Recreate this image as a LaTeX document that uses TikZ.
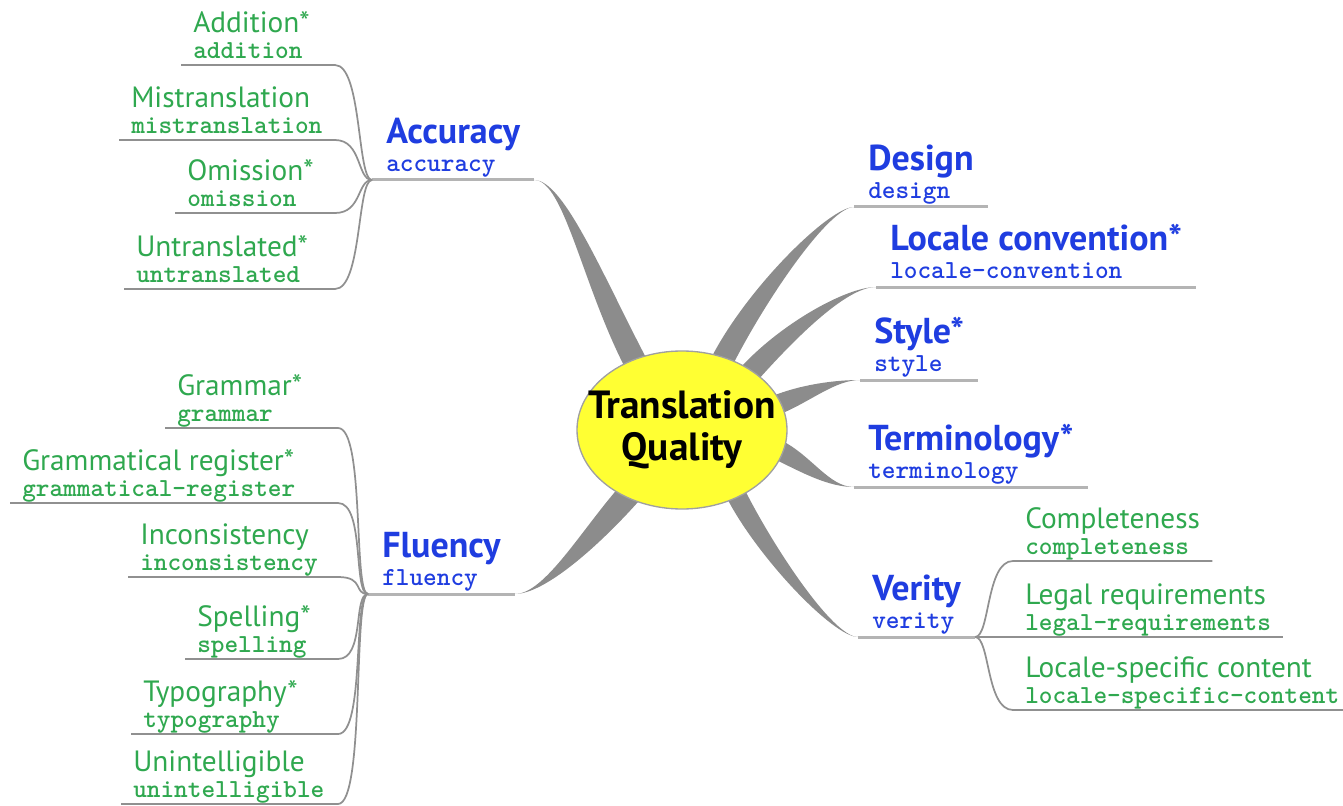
\documentclass[tikz,border=0pt]{standalone}
\usepackage{fontspec}
\setmainfont{PT Sans}
\newfontfamily\codefont{lmmonolt10-bold}[Extension=.otf]
\usetikzlibrary{shapes.geometric,backgrounds}

\definecolor{leafgreen}{HTML}{2FA84F}
\definecolor{topicblue}{HTML}{1F3DE0}
\definecolor{hubyellow}{HTML}{FFFF33}
\definecolor{hubline}{HTML}{A0A0A0}
\definecolor{ruleline}{HTML}{B4B4B4}
\definecolor{twigline}{HTML}{909090}
\definecolor{limbgray}{HTML}{8C8C8C}

% identifier under each label
\newcommand{\idtxt}[1]{{\codefont\fontsize{19.5}{18}\selectfont #1}}
% tapered branch: thin end, its control, control at thick end, thick end, two offsets
\newcommand{\limb}[6]{\fill[limbgray] (#1) .. controls +(#2) and +(#3) .. ([shift={(#5)}]#4) -- ([shift={(#6)}]#4) .. controls +(#3) and +(#2) .. (#1) -- cycle;}

\tikzset{
  leaf/.style={anchor=south west, align=left, inner xsep=9pt, inner ysep=0pt, text depth=5pt, text=leafgreen, font=\fontsize{22}{19.5}\selectfont},
  topic/.style={anchor=south west, align=left, inner xsep=10.5pt, inner ysep=0pt, text depth=6.5pt, text=topicblue, font=\bfseries\fontsize{27}{21}\selectfont},
  hub/.style={ellipse, draw=hubline, line width=1pt, fill=hubyellow, inner xsep=-20pt, inner ysep=6pt, minimum width=157.5pt, minimum height=118.5pt, align=center, font=\bfseries\fontsize{29.5}{31.5}\selectfont},
  rule/.style={draw=ruleline, line width=2.25pt},
  twig/.style={draw=twigline, line width=1.3pt},
}

\begin{document}
\begin{tikzpicture}[x=0.75pt, y=-0.75pt]
\useasboundingbox (0,0) rectangle (1343,806);

% centre
\node[hub] (tq) at (682,430) {Translation\\Quality};

% main topics
\node[topic] (acc) at (372,180) {Accuracy\\\idtxt{accuracy}};
\node[topic] (flu) at (368,594) {Fluency\\\idtxt{fluency}};
\node[topic] (des) at (854,207) {Design\\\idtxt{design}};
\node[topic] (loc) at (876,287) {Locale convention*\\\idtxt{locale-convention}};
\node[topic] (sty) at (860,380) {Style*\\\idtxt{style}};
\node[topic] (ter) at (854,487) {Terminology*\\\idtxt{terminology}};
\node[topic] (ver) at (858,637) {Verity\\\idtxt{verity}};

\foreach \t in {acc,flu,des,loc,sty,ter,ver}
  \draw[rule] (\t.south west) -- (\t.south east);

% branches out of the centre
\begin{scope}[on background layer]
\limb{acc.south east}{30,0}{-45,-85}{tq.123}{14,6}{-8,14}
\limb{flu.south east}{30,0}{-40,45}{tq.230}{14,3}{-4,-13}
\limb{des.south west}{-25,0}{35,-70}{tq.60}{6,13}{-14,3}
\limb{loc.south west}{-30,0}{40,-45}{tq.40}{2,13}{-14,-1}
\limb{sty.south west}{-25,0}{30,-12}{tq.15}{-2,11}{-10,-7}
\limb{ter.south west}{-25,0}{30,15}{tq.-12}{-2,-11}{-10,7}
\limb{ver.south west}{-25,0}{30,60}{tq.-50}{5,-10}{-13,-2}
\end{scope}

% accuracy
\node[leaf] (add) at (181,65) {Addition*\\\idtxt{addition}};
\node[leaf] (mis) at (119,140) {Mistranslation\\\idtxt{mistranslation}};
\node[leaf] (omi) at (175,213) {Omission*\\\idtxt{omission}};
\node[leaf] (unt) at (124,289) {Untranslated*\\\idtxt{untranslated}};
\coordinate (accbend) at (335,180);
\foreach \c in {add,mis,omi,unt}
  \draw[twig] (\c.south west) -- (\c.south west -| accbend) .. controls +(27,0) and +(-15,0) .. (acc.south west);

% fluency
\node[leaf] (gra) at (165,428) {Grammar*\\\idtxt{grammar}};
\node[leaf] (gre) at (10,503) {Grammatical register*\\\idtxt{grammatical-register}};
\node[leaf] (inc) at (128,577) {Inconsistency\\\idtxt{inconsistency}};
\node[leaf] (spe) at (185,659) {Spelling*\\\idtxt{spelling}};
\node[leaf] (typ) at (131,734) {Typography*\\\idtxt{typography}};
\node[leaf] (uni) at (121,804) {Unintelligible\\\idtxt{unintelligible}};
\coordinate (flubend) at (338,594);
\foreach \c in {gra,gre,inc,spe,typ,uni}
  \draw[twig] (\c.south west) -- (\c.south west -| flubend) .. controls +(27,0) and +(-15,0) .. (flu.south west);

% verity
\node[leaf] (com) at (1013,561) {Completeness\\\idtxt{completeness}};
\node[leaf] (leg) at (1013,637) {Legal requirements\\\idtxt{legal-requirements}};
\node[leaf] (lsc) at (1013,710) {Locale-specific content\\\idtxt{locale-specific-content}};
\foreach \c in {com,leg,lsc}
  \draw[twig] (ver.south east) .. controls +(15,0) and +(-27,0) .. (\c.south west) -- (\c.south east);
\end{tikzpicture}
\end{document}
